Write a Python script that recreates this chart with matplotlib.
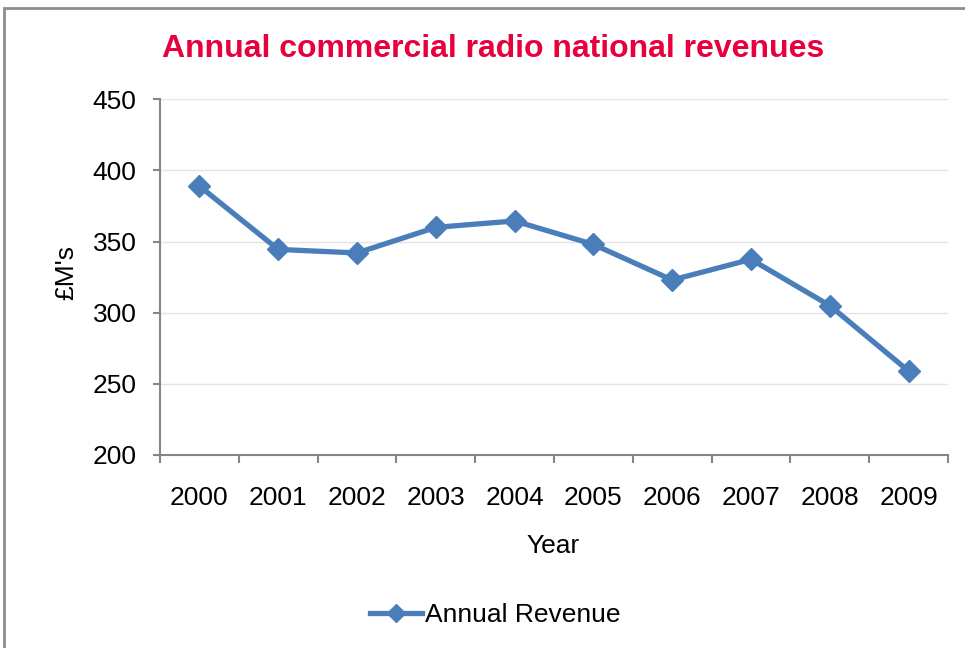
import matplotlib.pyplot as plt
from matplotlib.patches import Rectangle

years = ["2000", "2001", "2002", "2003", "2004", "2005", "2006", "2007", "2008", "2009"]
revenue = [389, 344.5, 342, 360, 364.5, 348, 323, 337.5, 305, 259]

plt.rcParams['font.family'] = ['Liberation Sans', 'DejaVu Sans']

blue = '#4A7EBB'
axis_grey = '#868686'

fig = plt.figure(figsize=(9.65, 6.48), dpi=100)
ax = fig.add_axes([160/965, 1 - 455/648, (948 - 160)/965, (455 - 99.3)/648])

x = list(range(len(years)))
ax.plot(x, revenue, color=blue, lw=3.8, marker='D', ms=11.5,
        markeredgecolor=blue, label='Annual Revenue', solid_joinstyle='round')

ax.set_xlim(-0.5, len(years) - 0.5)
ax.set_ylim(200, 450)
ax.set_yticks(range(200, 451, 50))
ax.tick_params(axis='y', labelsize=19, length=5, width=1.5, color=axis_grey, pad=12)

# category labels in the middle, tick marks on the boundaries
ax.set_xticks([i - 0.5 for i in range(len(years) + 1)])
ax.set_xticklabels([])
ax.set_xticks(x, minor=True)
ax.set_xticklabels(years, minor=True)
ax.tick_params(axis='x', which='major', length=6, width=1.5, color=axis_grey)
ax.tick_params(axis='x', which='minor', length=0, labelsize=19, pad=22)

ax.grid(axis='y', color='#E4E4E4', lw=1)
ax.set_axisbelow(True)
for side in ['top', 'right']:
    ax.spines[side].set_visible(False)
for side in ['left', 'bottom']:
    ax.spines[side].set_color(axis_grey)
    ax.spines[side].set_linewidth(1.5)

fig.text(553/965, 1 - 546/648, 'Year', fontsize=19, ha='center', va='center')
fig.text(66/965, 1 - 272/648, "£M's", fontsize=19, ha='center', va='center', rotation=90)
fig.text(493/965, 1 - 49/648, 'Annual commercial radio national revenues',
         fontsize=23, fontweight='bold', color='#E8003D', ha='center', va='center')

fig.legend(loc='center', bbox_to_anchor=(495/965, 1 - 615/648), frameon=False,
           fontsize=19, handlelength=2.0, handletextpad=0.1, markerscale=0.8)

fig.patches.append(Rectangle((4/965, -0.1), 1.1, 1 - 8/648 + 0.1, transform=fig.transFigure,
                             fill=False, edgecolor='#8C8C8C', lw=2))

fig.savefig('out.png', dpi=100)
